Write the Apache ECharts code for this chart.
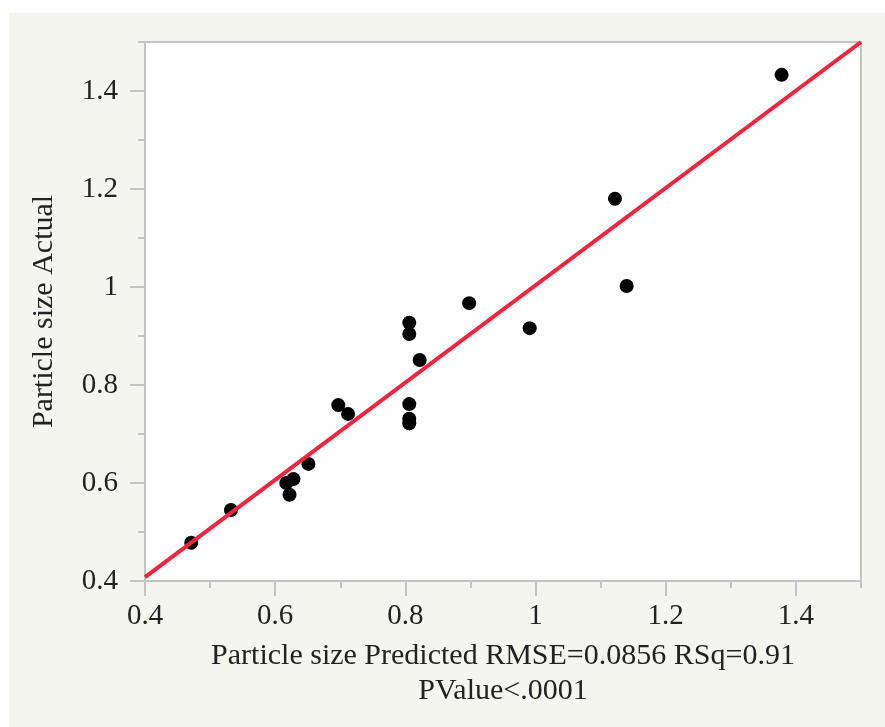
<!DOCTYPE html>
<html>
<head>
<meta charset="utf-8">
<script src="https://cdn.jsdelivr.net/npm/echarts@6.0.0/dist/echarts.min.js"></script>
<style>
  html, body { margin: 0; padding: 0; background: #ffffff; }
  #main { width: 885px; height: 727px; }
</style>
</head>
<body>
<div id="main"></div>
<script>
// 预测值 / 实际值
var predicted = [0.471, 0.532, 0.617, 0.628, 0.622, 0.651, 0.697, 0.712, 0.806, 0.806,
                 0.822, 0.806, 0.806, 0.806, 0.898, 0.991, 1.122, 1.140, 1.378];
var actual    = [0.478, 0.545, 0.600, 0.608, 0.576, 0.639, 0.759, 0.741, 0.927, 0.904,
                 0.851, 0.761, 0.731, 0.722, 0.967, 0.916, 1.180, 1.002, 1.433];
// fit line ends
var fitX = [0.4, 1.5];
var fitY = [0.408, 1.5];
// labelled (major) and unlabelled (minor) ticks
var majorTicks = [0.4, 0.6, 0.8, 1.0, 1.2, 1.4];
var minorTicks = [0.5, 0.7, 0.9, 1.1, 1.3, 1.5];
var xName = 'Particle size Predicted RMSE=0.0856 RSq=0.91\nPValue<.0001';
var yName = 'Particle size Actual';

var myChart = echarts.init(document.getElementById('main'));

var points = [];
for (var i = 0; i < predicted.length; i++) {
    points.push([predicted[i], actual[i]]);
}
var fitLine = [];
for (var j = 0; j < fitX.length; j++) {
    fitLine.push([fitX[j], fitY[j]]);
}

var font = 'Liberation Serif';
var tickColor = '#c4c4c4';
var gridPos = { left: 145, right: 24, top: 42, bottom: 146 };

function fmt(v) {
    return String(Math.round(v * 10) / 10);
}

// short ticks at every 0.1, no labels
function minorAxis() {
    return {
        type: 'value', min: 0.4, max: 1.5, gridIndex: 0,
        axisTick: { show: true, length: 7, customValues: majorTicks.concat(minorTicks),
                    lineStyle: { color: tickColor, width: 2 } },
        axisLabel: { show: false },
        axisLine: { show: true, lineStyle: { color: tickColor, width: 2 } },
        splitLine: { show: false }
    };
}

var option = {
    animation: false,
    graphic: [{
        type: 'rect', z: -100, silent: true,
        shape: { x: 9, y: 13, width: 876, height: 714 },
        style: { fill: '#f5f5f0' }
    }],
    grid: [
        Object.assign({ show: true, backgroundColor: '#ffffff', borderColor: tickColor, borderWidth: 2 }, gridPos),
        Object.assign({ show: false }, gridPos)
    ],
    xAxis: [
        minorAxis(),
        {
            type: 'value', min: 0.4, max: 1.5, gridIndex: 1,
            axisTick: { show: true, length: 15, customValues: majorTicks,
                        lineStyle: { color: tickColor, width: 2 } },
            axisLabel: { customValues: majorTicks, formatter: fmt, margin: 21,
                         fontFamily: font, fontSize: 29, color: '#222' },
            axisLine: { show: false },
            splitLine: { show: false },
            name: xName, nameLocation: 'middle', nameGap: 58,
            nameTextStyle: { fontFamily: font, fontSize: 30, color: '#222', lineHeight: 35 }
        }
    ],
    yAxis: [
        minorAxis(),
        {
            type: 'value', min: 0.4, max: 1.5, gridIndex: 1,
            axisTick: { show: true, length: 15, customValues: majorTicks,
                        lineStyle: { color: tickColor, width: 2 } },
            axisLabel: { customValues: majorTicks, formatter: fmt, margin: 27,
                         fontFamily: font, fontSize: 29, color: '#222' },
            axisLine: { show: false },
            splitLine: { show: false },
            name: yName, nameLocation: 'middle', nameGap: 86,
            nameTextStyle: { fontFamily: font, fontSize: 30, color: '#222' }
        }
    ],
    series: [
        {
            name: 'fit', type: 'line', xAxisIndex: 0, yAxisIndex: 0,
            data: fitLine, showSymbol: false, clip: true,
            lineStyle: { color: '#f4243f', width: 4 }
        },
        {
            name: 'points', type: 'scatter', xAxisIndex: 0, yAxisIndex: 0,
            data: points, symbolSize: 14,
            itemStyle: { color: '#000000', opacity: 1 }
        }
    ]
};
myChart.setOption(option);
</script>
</body>
</html>
